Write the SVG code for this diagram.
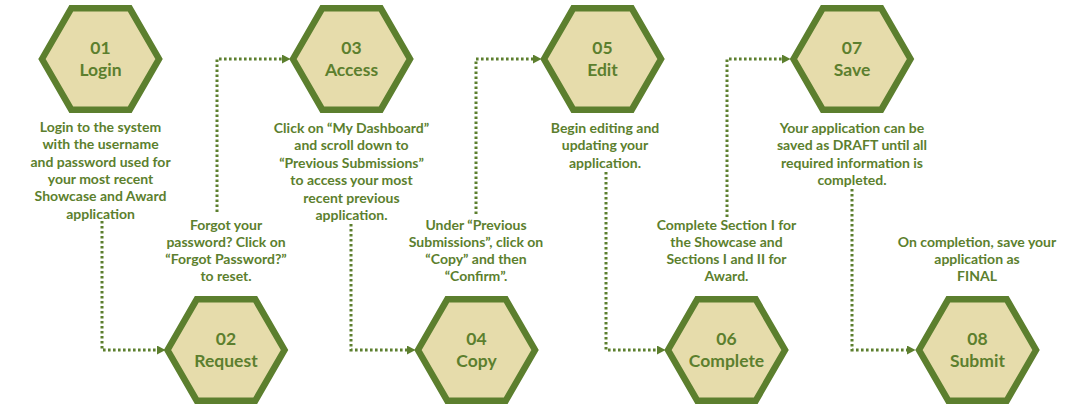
<svg xmlns="http://www.w3.org/2000/svg" width="1066" height="411" viewBox="0 0 1066 411">
<defs>
<style>
.hex{fill:#e6dcab;stroke:#5c7f2e;stroke-width:6.5;stroke-linejoin:miter}
.lbl{font-family:Lato,"Noto Sans",sans-serif;font-weight:bold;font-size:17.5px;fill:#5c7f2e;text-anchor:middle}
.desc{font-family:Lato,"Noto Sans",sans-serif;font-weight:bold;font-size:14px;fill:#5c7f2e;text-anchor:middle}
.con{fill:none;stroke:#5c7f2e;stroke-width:3;stroke-dasharray:2.6 2.4}
</style>
<marker id="arr" markerUnits="userSpaceOnUse" markerWidth="10" markerHeight="10" refX="0" refY="4.5" orient="auto">
<path d="M0,0 L8.5,4.5 L0,9 z" fill="#5c7f2e"/>
</marker>
<path id="hx" d="M-58.5,0 L-29.25,-50.7 L29.25,-50.7 L58.5,0 L29.25,50.7 L-29.25,50.7 Z"/>
</defs>
<rect width="1066" height="411" fill="#ffffff"/>
<g id="connectors">
<path class="con" d="M102,221 V350 H157" marker-end="url(#arr)"/>
<path class="con" d="M217,212 V59 H282" marker-end="url(#arr)"/>
<path class="con" d="M351,224 V350 H407" marker-end="url(#arr)"/>
<path class="con" d="M476,214 V59 H533" marker-end="url(#arr)"/>
<path class="con" d="M606,172 V350 H657" marker-end="url(#arr)"/>
<path class="con" d="M727,217 V59 H782" marker-end="url(#arr)"/>
<path class="con" d="M852,189 V350 H907" marker-end="url(#arr)"/>
</g>
<g id="n01">
<use href="#hx" class="hex" x="100.5" y="59"/>
<text class="lbl" x="100.5" y="54">01</text>
<text class="lbl" x="100.5" y="76">Login</text>
<text class="desc" x="100.5"><tspan x="100.5" y="132">Login to the system</tspan><tspan x="100.5" y="149.3">with the username</tspan><tspan x="100.5" y="166.6">and password used for</tspan><tspan x="100.5" y="183.9">your most recent</tspan><tspan x="100.5" y="201.2">Showcase and Award</tspan><tspan x="100.5" y="218.5">application</tspan></text>
</g>
<g id="n02">
<use href="#hx" class="hex" x="226" y="350"/>
<text class="lbl" x="226" y="345">02</text>
<text class="lbl" x="226" y="367">Request</text>
<text class="desc"><tspan x="226" y="229.5">Forgot your</tspan><tspan x="226" y="246.8">password? Click on</tspan><tspan x="226" y="264.1">“Forgot Password?”</tspan><tspan x="226" y="281.4">to reset.</tspan></text>
</g>
<g id="n03">
<use href="#hx" class="hex" x="351.5" y="59"/>
<text class="lbl" x="351.5" y="54">03</text>
<text class="lbl" x="351.5" y="76">Access</text>
<text class="desc"><tspan x="351.5" y="132.5">Click on “My Dashboard”</tspan><tspan x="351.5" y="150">and scroll down to</tspan><tspan x="351.5" y="167.5">“Previous Submissions”</tspan><tspan x="351.5" y="185">to access your most</tspan><tspan x="351.5" y="202.5">recent previous</tspan><tspan x="351.5" y="220">application.</tspan></text>
</g>
<g id="n04">
<use href="#hx" class="hex" x="476.5" y="350"/>
<text class="lbl" x="476.5" y="345">04</text>
<text class="lbl" x="476.5" y="367">Copy</text>
<text class="desc"><tspan x="476" y="229.5">Under “Previous</tspan><tspan x="476" y="246.8">Submissions”, click on</tspan><tspan x="476" y="264.1">“Copy” and then</tspan><tspan x="476" y="281.4">“Confirm”.</tspan></text>
</g>
<g id="n05">
<use href="#hx" class="hex" x="602.5" y="59"/>
<text class="lbl" x="602.5" y="54">05</text>
<text class="lbl" x="602.5" y="76">Edit</text>
<text class="desc"><tspan x="605" y="132.5">Begin editing and</tspan><tspan x="605" y="150">updating your</tspan><tspan x="605" y="167.5">application.</tspan></text>
</g>
<g id="n06">
<use href="#hx" class="hex" x="726.5" y="350"/>
<text class="lbl" x="726.5" y="345">06</text>
<text class="lbl" x="726.5" y="367">Complete</text>
<text class="desc"><tspan x="726.5" y="229.5">Complete Section I for</tspan><tspan x="726.5" y="246.8">the Showcase and</tspan><tspan x="726.5" y="264.1">Sections I and II for</tspan><tspan x="726.5" y="281.4">Award.</tspan></text>
</g>
<g id="n07">
<use href="#hx" class="hex" x="852" y="59"/>
<text class="lbl" x="852" y="54">07</text>
<text class="lbl" x="852" y="76">Save</text>
<text class="desc"><tspan x="852" y="132.5">Your application can be</tspan><tspan x="852" y="150">saved as DRAFT until all</tspan><tspan x="852" y="167.5">required information is</tspan><tspan x="852" y="185">completed.</tspan></text>
</g>
<g id="n08">
<use href="#hx" class="hex" x="977.5" y="350"/>
<text class="lbl" x="977.5" y="345">08</text>
<text class="lbl" x="977.5" y="367">Submit</text>
<text class="desc"><tspan x="977" y="247">On completion, save your</tspan><tspan x="977" y="264.1">application as</tspan><tspan x="977" y="281.4">FINAL</tspan></text>
</g>
</svg>
